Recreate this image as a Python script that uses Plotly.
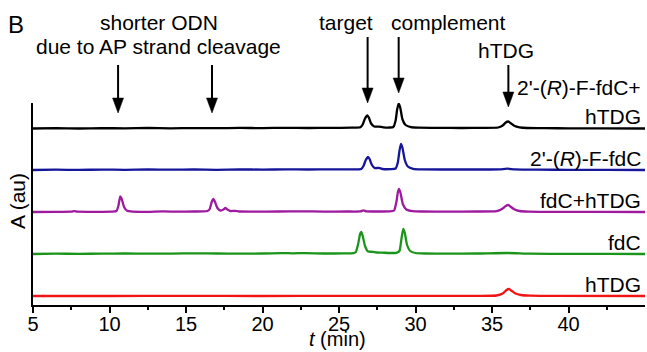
import plotly.graph_objects as go

# ---------------- data ----------------
# chromatogram traces: (t in min, absorbance in arbitrary units)
trace_names = ["2'-(R)-F-fdC+hTDG", "2'-(R)-F-fdC", "fdC+hTDG", "fdC", "hTDG"]

black_trace = [(5.0, 0.0), (6.5, 0.3), (8.0, 0.0), (9.5, 0.4), (11.0, 0.1), (12.5, 0.5), (14.0, 0.2),
               (15.5, 0.4), (17.0, 0.3), (18.5, 0.6), (20.0, 0.4), (21.5, 0.7), (23.0, 0.5), (24.5, 0.6),
               (25.8, 0.8), (26.4, 1.2), (26.55, 4.0), (26.7, 10.0), (26.85, 13.0), (26.95, 11.0),
               (27.1, 5.0), (27.3, 2.0), (27.6, 1.8), (27.9, 1.2), (28.3, 1.0), (28.55, 1.5), (28.7, 8.0),
               (28.8, 19.0), (28.9, 25.0), (29.0, 21.0), (29.15, 9.0), (29.35, 3.5), (29.7, 1.3),
               (30.2, 0.8), (31.5, 0.6), (33.0, 0.5), (34.5, 0.6), (35.4, 1.0), (35.7, 3.0), (35.9, 6.0),
               (36.05, 7.0), (36.2, 5.5), (36.45, 2.8), (36.8, 1.2), (37.3, 0.5), (38.5, 0.3), (40.0, 0.2),
               (42.0, 0.1), (45.0, 0.0)]

blue_trace = [(5.0, 0.0), (6.5, 0.3), (8.0, 0.1), (9.5, 0.4), (11.0, 0.2), (12.5, 0.5), (14.0, 0.3),
              (15.5, 0.5), (17.0, 0.2), (18.5, 0.6), (20.0, 0.4), (21.5, 0.6), (23.0, 0.5), (24.5, 0.7),
              (25.8, 0.6), (26.45, 1.0), (26.6, 4.0), (26.75, 10.0), (26.9, 13.0), (27.0, 11.0),
              (27.15, 5.0), (27.35, 1.8), (27.6, 2.2), (27.85, 1.0), (28.4, 0.9), (28.7, 1.5), (28.85, 8.0),
              (28.95, 19.0), (29.05, 26.0), (29.15, 22.0), (29.3, 10.0), (29.5, 3.5), (29.85, 1.2),
              (30.4, 0.6), (32.0, 0.5), (34.0, 0.5), (35.5, 0.7), (36.0, 1.3), (36.5, 0.6), (38.0, 0.3),
              (40.0, 0.2), (42.5, 0.1), (45.0, 0.0)]

purple_trace = [(5.0, 0.0), (6.5, 0.2), (7.5, 0.3), (7.7, 0.9), (7.9, 0.3), (9.0, 0.2), (10.2, 0.3),
                (10.45, 1.0), (10.58, 6.0), (10.7, 15.6), (10.8, 13.0), (10.95, 5.0), (11.15, 1.2),
                (11.5, 0.3), (12.5, 0.2), (13.5, 0.6), (14.5, 0.3), (15.5, 0.5), (16.1, 0.6), (16.4, 1.0),
                (16.55, 3.0), (16.68, 10.0), (16.79, 13.0), (16.9, 10.0), (17.05, 4.0), (17.25, 1.5),
                (17.45, 2.5), (17.57, 4.0), (17.7, 2.5), (17.9, 1.0), (18.2, 1.2), (18.5, 0.5), (19.5, 0.4),
                (21.0, 0.5), (22.5, 0.7), (24.0, 0.4), (25.5, 0.5), (26.4, 0.6), (26.6, 1.6), (26.8, 0.6),
                (27.5, 0.5), (28.3, 0.6), (28.6, 1.5), (28.75, 10.0), (28.85, 20.0), (28.92, 23.0),
                (29.02, 19.0), (29.17, 8.0), (29.4, 2.5), (29.8, 0.8), (30.5, 0.5), (32.0, 0.4), (34.0, 0.5),
                (35.3, 0.9), (35.65, 3.0), (35.9, 6.0), (36.05, 7.0), (36.2, 5.5), (36.45, 2.8), (36.8, 1.0),
                (37.4, 0.4), (39.0, 0.2), (42.0, 0.1), (45.0, 0.0)]

green_trace = [(5.0, 0.0), (6.5, 0.3), (8.0, 0.2), (9.5, 0.3), (11.0, 0.6), (12.5, 0.3), (14.0, 0.4),
               (15.8, 0.7), (17.0, 0.5), (18.5, 0.4), (20.0, 0.5), (21.2, 0.9), (22.0, 0.7), (22.8, 0.9),
               (24.0, 0.5), (25.3, 0.6), (25.95, 0.9), (26.1, 2.0), (26.25, 10.0), (26.38, 20.0),
               (26.45, 22.0), (26.55, 18.0), (26.7, 8.0), (26.9, 2.5), (27.2, 2.2), (27.45, 1.5),
               (27.8, 1.4), (28.3, 1.0), (28.75, 1.2), (28.95, 3.0), (29.08, 15.0), (29.2, 25.0),
               (29.3, 21.0), (29.45, 9.0), (29.65, 3.0), (30.0, 1.0), (30.6, 0.5), (32.0, 0.4), (34.0, 0.5),
               (36.0, 1.0), (37.5, 0.3), (40.0, 0.2), (42.5, 0.1), (45.0, 0.0)]

red_trace = [(5.0, 0.0), (10.0, 0.0), (15.0, 0.1), (20.0, 0.0), (25.0, 0.1), (30.0, 0.1), (34.0, 0.2),
             (35.3, 0.5), (35.7, 2.5), (35.95, 6.0), (36.1, 7.0), (36.25, 5.5), (36.5, 2.8), (36.9, 1.0),
             (37.5, 0.3), (39.0, 0.1), (45.0, 0.0)]

# vertical stacking offsets of each trace (au)
trace_offsets = [176.5, 135.0, 93.0, 51.0, 9.0]

label_texts = ["hTDG", "2'-(<i>R</i>)-F-fdC", "fdC+hTDG", "fdC", "hTDG"]
top_label_text = "2'-(<i>R</i>)-F-fdC+"

# annotated peaks (t in min)
cleavage_peaks = [10.56, 16.7]
target_peak = 26.87
complement_peak = 28.9
htdg_peak = 36.07

x_ticks = [5, 10, 15, 20, 25, 30, 35, 40]

# ---------------- figure ----------------
colors = ["#000000", "#16169a", "#9e1a9e", "#1a951a", "#f21414"]
traces = [black_trace, blue_trace, purple_trace, green_trace, red_trace]

W, H = 647, 352
L, R, T, B = 33, 2, 103, 47
PW, PH = W - L - R, H - T - B
FONT = "Liberation Sans, Arial, sans-serif"


def px_x(px):
    return (px - L) / PW


def px_y(py):
    return (H - B - py) / PH


fig = go.Figure()
for name, tr, off, col in zip(trace_names, traces, trace_offsets, colors):
    ts = [p[0] for p in tr]
    ys = [p[1] + off for p in tr]
    fig.add_trace(go.Scatter(x=ts, y=ys, mode="lines", name=name,
                             line=dict(color=col, width=2.3, shape="spline", smoothing=0.5),
                             showlegend=False))

annotations = []
# right-hand labels (paper coordinates so they are never hidden outside the range)
Y_UNIT = 1.0 / 202.0
for txt, off in zip(label_texts, trace_offsets):
    annotations.append(dict(x=1, y=(off + 12) * Y_UNIT, xref="paper", yref="paper", text=txt,
                            showarrow=False, xanchor="right", yanchor="middle", xshift=-2,
                            font=dict(size=21, color="black", family=FONT)))
annotations.append(dict(x=1, y=(trace_offsets[0] + 41) * Y_UNIT, xref="paper", yref="paper",
                        text=top_label_text, showarrow=False, xanchor="right", yanchor="middle",
                        xshift=-2, font=dict(size=21, color="black", family=FONT)))

# header texts
def txt_ann(text, cx, cy, size=21):
    return dict(x=px_x(cx), y=px_y(cy), xref="paper", yref="paper", text=text, showarrow=False,
                xanchor="center", yanchor="middle", font=dict(size=size, color="black", family=FONT))

annotations += [
    txt_ann("B", 16, 24, 24),
    txt_ann("shorter ODN", 159, 22),
    txt_ann("due to AP strand cleavage", 158.5, 47),
    txt_ann("target", 345.5, 22),
    txt_ann("complement", 448, 22),
    txt_ann("hTDG", 505.5, 50),
]
annotations.append(dict(x=px_x(337), y=0, xref="paper", yref="paper", text="<i>t</i> (min)",
                        showarrow=False, xanchor="center", yanchor="bottom", yshift=-B,
                        font=dict(size=20, color="black", family=FONT)))
annotations.append(dict(x=px_x(17), y=px_y(201), xref="paper", yref="paper", text="A (au)",
                        showarrow=False, textangle=-90, xanchor="center", yanchor="middle",
                        font=dict(size=21, color="black", family=FONT)))

# arrows as shapes (line + filled triangle head)
shapes = []
HEAD_L = 15  # px
HEAD_HW = 5.5 / (PW / 40.0)  # half width in minutes
arrow_specs = [(t, 65, 113) for t in cleavage_peaks] + [
    (target_peak, 37, 103), (complement_peak, 37, 93), (htdg_peak, 65, 107)]
for t, tail, tip in arrow_specs:
    shapes.append(dict(type="line", xref="x", yref="paper", x0=t, x1=t,
                       y0=px_y(tail), y1=px_y(tip - 4), line=dict(color="black", width=2)))
    ytip = px_y(tip)
    ybase = px_y(tip - HEAD_L)
    shapes.append(dict(type="path", xref="x", yref="paper",
                       path=f"M {t} {ytip} L {t - HEAD_HW} {ybase} L {t + HEAD_HW} {ybase} Z",
                       fillcolor="black", line=dict(color="black", width=0.5)))

fig.update_layout(
    width=W, height=H,
    margin=dict(l=L, r=R, t=T, b=B, pad=0),
    paper_bgcolor="white", plot_bgcolor="white",
    font=dict(family=FONT, color="black"),
    annotations=annotations, shapes=shapes,
    xaxis=dict(range=[5, 45], tickvals=x_ticks, ticktext=[str(v) for v in x_ticks],
               showline=True, linecolor="black", linewidth=2, ticks="outside", ticklen=6,
               tickwidth=2, tickcolor="black", showgrid=False, zeroline=False,
               ticklabelstandoff=-6,
               tickfont=dict(size=20, family=FONT, color="black"),
               minor=dict(tickvals=[7.5, 12.5, 17.5, 22.5, 27.5, 32.5, 37.5, 42.5],
                          ticks="outside", ticklen=3, tickwidth=2, tickcolor="black", showgrid=False)),
    yaxis=dict(range=[0, 202], showline=True, linecolor="black", linewidth=2, ticks="",
               showticklabels=False, showgrid=False, zeroline=False),
)

fig.write_html("out.html")
